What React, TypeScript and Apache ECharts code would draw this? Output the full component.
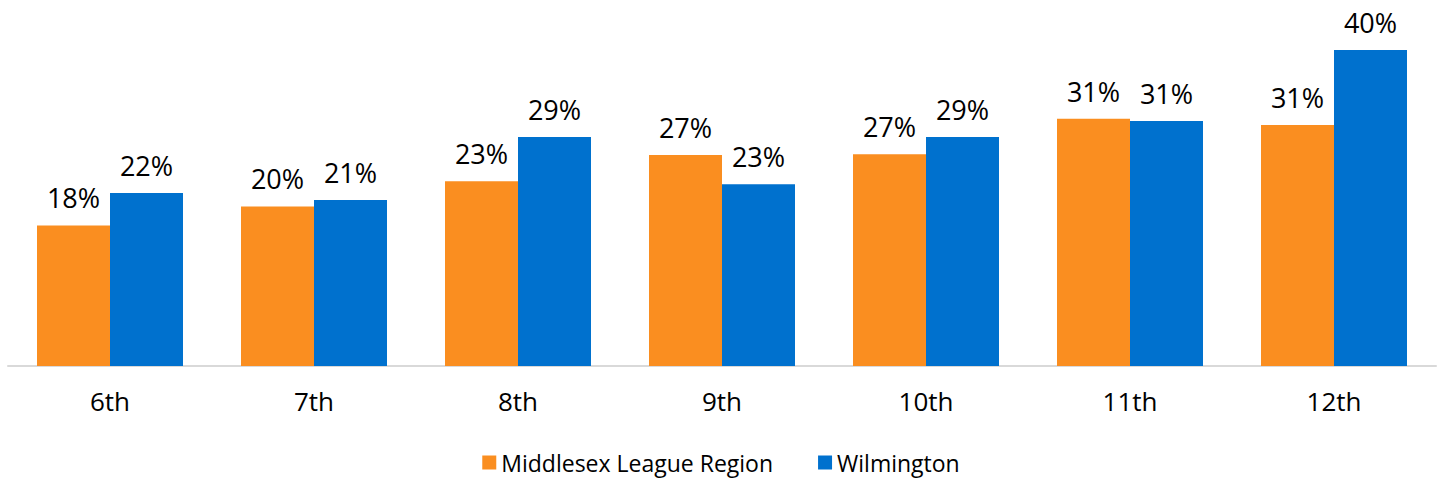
import React, { useEffect, useRef } from "react";
import * as echarts from "echarts";

const categories = ["6th", "7th", "8th", "9th", "10th", "11th", "12th"];
const middlesex = [17.8, 20.2, 23.4, 26.7, 26.8, 31.3, 30.5];
const wilmington = [21.9, 21.0, 29.0, 23.0, 29.0, 31.0, 40.0];
const seriesNames = ["Middlesex League Region", "Wilmington"];

const FONT = "'Open Sans', Lato, sans-serif";

export default function App() {
  const ref = useRef<HTMLDivElement>(null);
  useEffect(() => {
    if (!ref.current) return;
    const chart = echarts.init(ref.current, null, { renderer: "svg" });
    const label = {
      show: true,
      position: "top",
      distance: 14,
      color: "#000",
      fontSize: 27,
      fontFamily: FONT,
      formatter: (p: any) => Math.round(p.value) + "%",
    };
    chart.setOption({
      animation: false,
      grid: { left: 8, right: 6, top: 50, bottom: 116, containLabel: false },
      legend: {
        top: 451,
        left: "center",
        padding: 0,
        itemWidth: 14,
        itemHeight: 14,
        itemGap: 45,
        icon: "rect",
        textStyle: { fontSize: 23, fontFamily: FONT, color: "#000" },
        data: seriesNames,
      },
      xAxis: {
        type: "category",
        data: categories,
        axisLine: { lineStyle: { color: "#D9D9D9", width: 2 } },
        axisTick: { show: false },
        axisLabel: { fontSize: 26, fontFamily: FONT, color: "#000", margin: 22 },
      },
      yAxis: {
        type: "value",
        min: 0,
        max: 40,
        show: false,
        splitLine: { show: false },
      },
      series: [
        {
          name: seriesNames[0],
          type: "bar",
          data: middlesex,
          barWidth: 73,
          barGap: "0%",
          itemStyle: { color: "#FA8E20" },
          label,
        },
        {
          name: seriesNames[1],
          type: "bar",
          data: wilmington,
          barWidth: 73,
          barGap: "0%",
          itemStyle: { color: "#0071CE" },
          label,
        },
      ],
    });
    return () => chart.dispose();
  }, []);
  return (
    <div
      ref={ref}
      style={{ position: "fixed", left: 0, top: 0, width: 1442, height: 482, background: "#fff" }}
    />
  );
}
